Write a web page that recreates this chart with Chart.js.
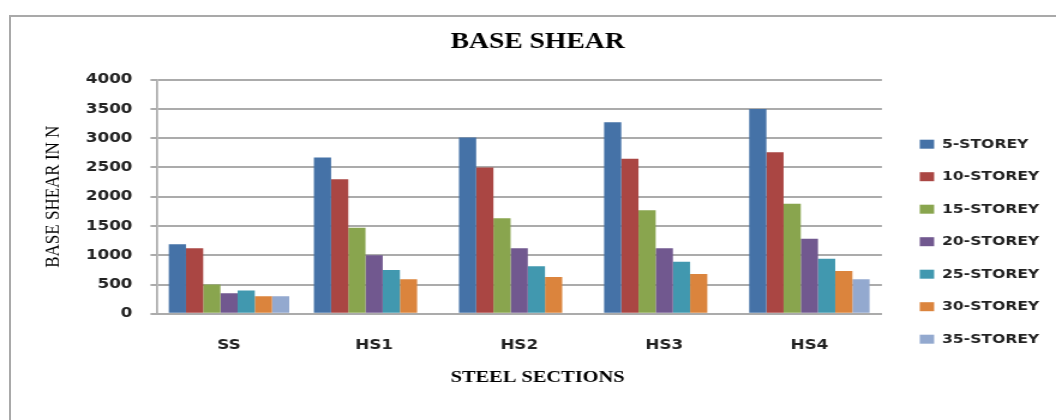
<!DOCTYPE html>
<html>
<head>
<meta charset="utf-8">
<script src="https://cdn.jsdelivr.net/npm/chart.js@4/dist/chart.umd.min.js"></script>
<style>
  body { margin: 0; background: #fff; }
  #frame { position: absolute; left: 9px; top: 15px; width: 1200px; height: 600px;
           border-left: 2px solid #a9a9a9; border-top: 2px solid #a9a9a9; }
  #wrap { position: absolute; left: 0; top: 0; width: 880px; height: 420px;
          transform: scaleX(1.2); transform-origin: 0 0; }
</style>
</head>
<body>
<div id="frame"></div>
<div id="wrap"><canvas id="chBar" width="880" height="420"></canvas></div>
<script>
// data
const categories = ["SS", "HS1", "HS2", "HS3", "HS4"];
const seriesNames = ["5-STOREY", "10-STOREY", "15-STOREY", "20-STOREY", "25-STOREY", "30-STOREY", "35-STOREY"];
const storey5 = [1190, 2670, 3010, 3270, 3500];
const storey10 = [1120, 2300, 2500, 2650, 2760];
const storey15 = [500, 1470, 1630, 1770, 1880];
const storey20 = [350, 1000, 1120, 1120, 1280];
const storey25 = [400, 750, 810, 890, 940];
const storey30 = [300, 590, 630, 680, 730];
const storey35 = [300, null, null, null, 590];
const yTicks = [0, 500, 1000, 1500, 2000, 2500, 3000, 3500, 4000];

const colors = ["#4572A7", "#AA4643", "#89A54E", "#71588F", "#4198AF", "#DB843D", "#93A9CF"];
const values = [storey5, storey10, storey15, storey20, storey25, storey30, storey35];

const gridGrey = "#ababab";
const sans = "'DejaVu Sans', Verdana, sans-serif";
const serif = "'Liberation Serif', 'Times New Roman', serif";

const data = {
  labels: categories,
  datasets: seriesNames.map(function (name, i) {
    return {
      label: name,
      data: values[i],
      backgroundColor: colors[i],
      borderWidth: 0,
      categoryPercentage: 0.83,
      barPercentage: 1.0,
    };
  }),
};

const config = {
  type: "bar",
  data: data,
  options: {
    responsive: false,
    animation: false,
    layout: { padding: { top: 15, left: 20, right: 4, bottom: 20 } },
    plugins: {
      title: {
        display: true,
        text: "BASE SHEAR",
        color: "#000",
        font: { family: serif, size: 23, weight: "bold" },
        padding: { top: 13, bottom: 24 },
      },
      subtitle: {
        display: true,
        position: "bottom",
        text: "STEEL SECTIONS",
        color: "#000",
        font: { family: serif, size: 17, weight: "bold" },
        padding: { top: 13, bottom: 12 },
      },
      legend: {
        position: "right",
        title: { display: true, text: "", font: { size: 12 }, padding: { top: 54, bottom: 0 } },
        labels: {
          boxWidth: 12,
          boxHeight: 9,
          padding: 19.5,
          color: "#222",
          font: { family: sans, size: 13, weight: "bold" },
        },
      },
      tooltip: { enabled: false },
    },
    scales: {
      x: {
        grid: { display: false, drawTicks: true, tickLength: 22 },
        border: { display: true, color: gridGrey, width: 2 },
        ticks: { padding: 1, color: "#222", font: { family: sans, size: 14, weight: "bold" } },
      },
      y: {
        min: 0,
        max: 4000,
        afterBuildTicks: function (axis) {
          axis.ticks = yTicks.map(function (v) { return { value: v }; });
        },
        grid: { color: gridGrey, lineWidth: 2, tickLength: 5 },
        border: { display: true, color: gridGrey, width: 1.7 },
        ticks: {
          padding: 15,
          color: "#222",
          font: { family: sans, size: 14, weight: "bold" },
          callback: function (v) { return String(v); },
        },
        title: {
          display: true,
          text: "BASE SHEAR IN N",
          color: "#000",
          font: { family: serif, size: 17 },
          padding: { top: 14, bottom: 2 },
        },
      },
      // spacer between plot and legend
      y2: {
        position: "right",
        grid: { display: false },
        border: { display: false },
        ticks: { display: false },
        afterFit: function (scale) { scale.width = 12; },
      },
    },
  },
};

var myChart = new Chart(document.getElementById("chBar"), config);
</script>
</body>
</html>
